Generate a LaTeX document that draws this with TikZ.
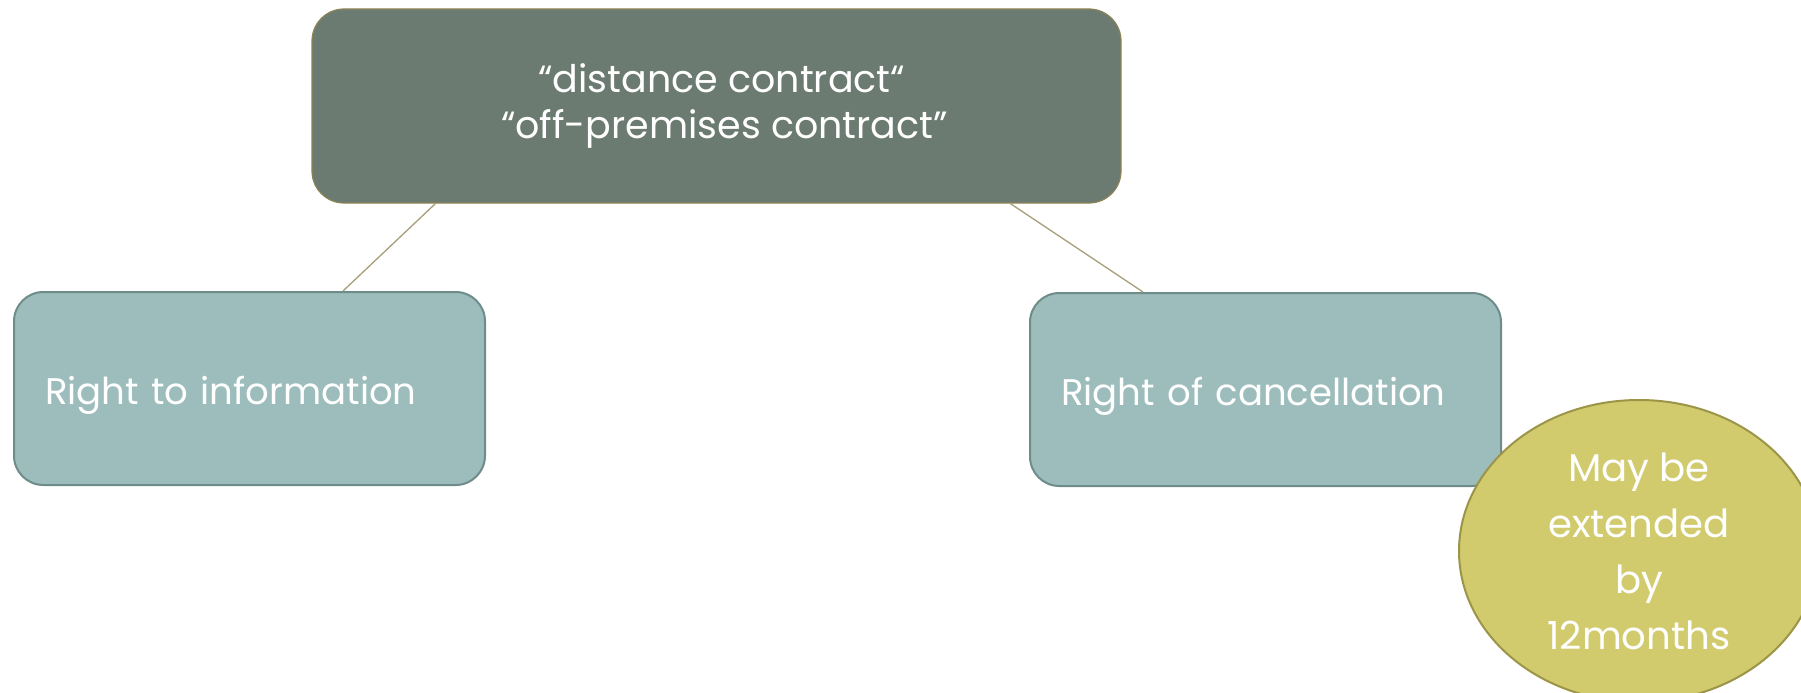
\documentclass[tikz,border=0pt]{standalone}
\usepackage{fontspec}
\setmainfont{Poppins}
\usetikzlibrary{shapes.geometric,calc}
\definecolor{topfill}{RGB}{107,123,113}
\definecolor{topline}{RGB}{140,132,86}
\definecolor{boxfill}{RGB}{157,189,188}
\definecolor{boxline}{RGB}{110,140,138}
\definecolor{ovalfill}{RGB}{209,203,110}
\definecolor{ovalline}{RGB}{156,148,71}
\definecolor{linkcol}{RGB}{168,160,122}
\newcommand{\lowtext}[1]{\raisebox{-5pt}[\height][\depth]{#1}}
\begin{document}
\begin{tikzpicture}[x=0.75pt,y=0.75pt,yscale=-1,xscale=1,
  headbox/.style={rectangle,rounded corners=24pt,draw=topline,line width=0.9pt,fill=topfill,
    minimum width=606.75pt,minimum height=145.5pt,align=center,text=white,
    font=\fontsize{28.5}{35}\selectfont},
  rightbox/.style={rectangle,rounded corners=22pt,draw=boxline,line width=1.5pt,fill=boxfill,
    text width=306.75pt,inner xsep=23.25pt,minimum height=144.75pt,align=left,text=white,
    font=\fontsize{27.8}{31}\selectfont},
  oval/.style={ellipse,draw=ovalline,line width=1.5pt,fill=ovalfill,
    minimum width=270pt,minimum height=226.5pt,inner sep=0pt,align=center,text=white,
    font=\fontsize{29}{42}\selectfont},
  link/.style={draw=linkcol,line width=1pt}]
\useasboundingbox (0,0) rectangle (1801,692);
\clip (0,0) rectangle (1801,692);

%Shape: Rounded Rect [id:head]
\node [headbox] (head) at (716.5,106) {\hspace*{8pt}“distance contract“\\\hspace*{12pt}“off-premises contract”};
%Shape: Rounded Rect [id:info]
\node [rightbox,anchor=north west] (info) at (13,291) {\lowtext{Right to information}};
%Shape: Rounded Rect [id:cancel]
\node [rightbox,anchor=north west] (cancel) at (1029,292) {\lowtext{Right of cancellation}};

%Straight Lines [id:headinfo]
\draw [link] ([xshift=93pt]head.south west) -- ([xshift=247.5pt]info.north west) ;
%Straight Lines [id:headcancel]
\draw [link] ([xshift=524.25pt]head.south west) -- ([xshift=85.5pt]cancel.north west) ;

%Shape: Ellipse [id:extend]
\node [oval] (extend) at (1639,551) {May be\\extended\\by\\12months};

\end{tikzpicture}
\end{document}
